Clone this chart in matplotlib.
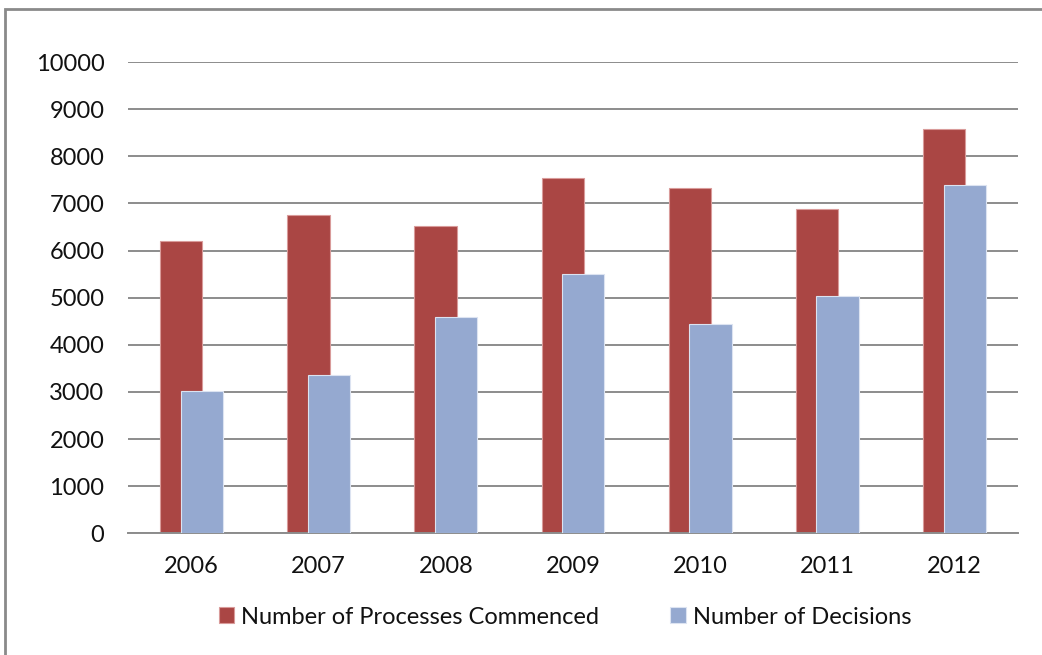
import numpy as np
import matplotlib.pyplot as plt
from matplotlib.patches import Rectangle

years = ["2006", "2007", "2008", "2009", "2010", "2011", "2012"]
processes = [6200, 6750, 6530, 7540, 7320, 6880, 8570]
decisions = [3020, 3350, 4600, 5500, 4440, 5030, 7400]

plt.rcParams["font.family"] = ["Lato", "DejaVu Sans"]

fig = plt.figure(figsize=(10.42, 6.55), dpi=100)
ax = fig.add_axes([0.1228, 0.1858, 0.977 - 0.1228, 0.9053 - 0.1858])

x = np.arange(len(years))
w = 0.333
off = 0.081
ax.bar(x - off, processes, w, color="#aa4644", edgecolor="#d99b9a", linewidth=0.8,
       label="Number of Processes Commenced", zorder=2)
ax.bar(x + off, decisions, w, color="#95a9d0", edgecolor="#dce3f1", linewidth=0.8,
       label="Number of Decisions", zorder=3)

ax.set_xlim(-0.5, len(years) - 0.5)
ax.set_ylim(0, 10000)
ax.set_yticks(range(0, 10001, 1000))
ax.set_xticks(x)
ax.set_xticklabels(years)
ax.yaxis.grid(True, color="#8c8c8c", linewidth=1.4)
ax.set_axisbelow(True)
for s in ["top", "right", "left"]:
    ax.spines[s].set_visible(False)
ax.spines["bottom"].set_color("#8c8c8c")
ax.spines["bottom"].set_linewidth(1.4)
ax.tick_params(axis="both", length=0, labelsize=17, colors="#111111")
ax.tick_params(axis="y", pad=17)
ax.tick_params(axis="x", pad=16)

fig.legend(loc="center", bbox_to_anchor=(565 / 1042, 0.058), ncol=2, frameon=False,
           fontsize=17, handlelength=0.65, handleheight=0.65, handletextpad=0.3,
           columnspacing=3.0, labelcolor="#111111")

# outer chart border (right and bottom edges fall outside the image)
fig.patches.append(Rectangle((5 / 1042, -0.1), 1.2, 1.1 - 9 / 655,
                             transform=fig.transFigure, fill=False,
                             edgecolor="#8a8a8a", linewidth=2))

fig.savefig("out.png", dpi=100)
